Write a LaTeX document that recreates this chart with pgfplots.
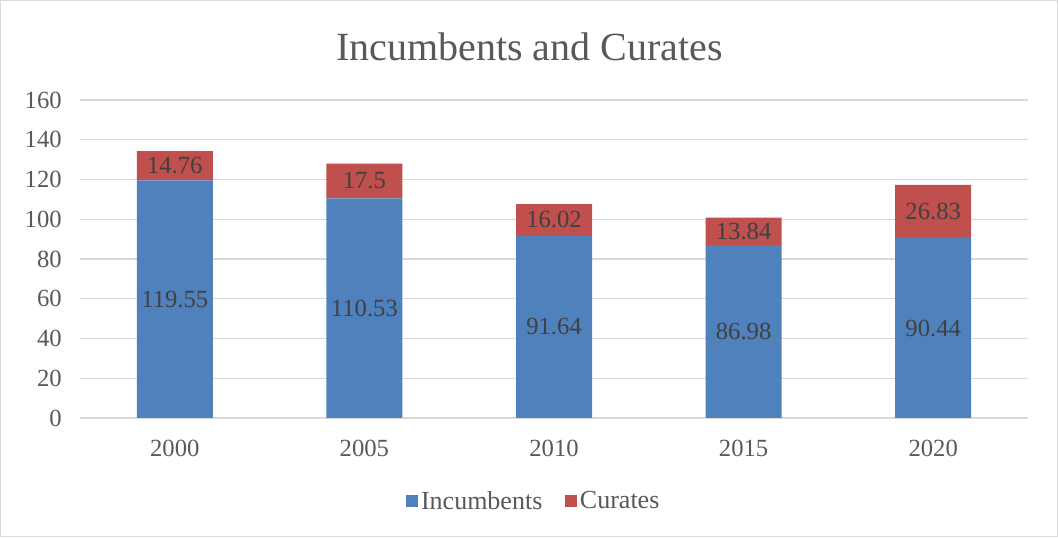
\documentclass[border=0pt]{standalone}
\usepackage{pgfplots}
\usepackage{pgfplotstable}
\pgfplotsset{compat=1.18}
\usepackage{fontspec}
\setmainfont{Liberation Serif}
\definecolor{incblue}{HTML}{4F81BD}
\definecolor{curred}{HTML}{C0504D}
\definecolor{gridgray}{HTML}{D9D9D9}
\definecolor{txtgray}{HTML}{595959}
\definecolor{lblgray}{HTML}{404040}
\pgfplotstableread{
x inc cur
0 119.55 14.76
1 110.53 17.5
2 91.64 16.02
3 86.98 13.84
4 90.44 26.83
}\datatable
\begin{document}
\begin{tikzpicture}[x=1pt,y=1pt]
\begin{axis}[
  at={(0,0)}, anchor=south west, clip=false,
  scale only axis, width=711pt, height=238.5pt,
  ybar stacked, bar width=57pt,
  xmin=-0.5, xmax=4.5, ymin=0, ymax=160,
  xtick={0,1,2,3,4}, xticklabels={2000,2005,2010,2015,2020},
  ytick={0,20,...,160},
  ymajorgrids, grid style={gridgray, line width=0.9pt},
  axis line style={draw=none},
  major tick length=0pt,
  tick label style={font=\fontsize{18.5}{22}\selectfont, text=txtgray},
  /pgf/number format/assume math mode=true,
  yticklabel style={anchor=east, inner sep=0pt, xshift=-13.5pt},
  xticklabel style={anchor=center, inner sep=0pt, yshift=-22.5pt},
  point meta=explicit symbolic,
  nodes near coords,
  every node near coord/.append style={font=\fontsize{18.5}{22}\selectfont, text=lblgray, anchor=center},
  legend style={draw=none, at={(0.479,-0.261)}, anchor=center, legend columns=2,
    font=\fontsize{19.5}{23}\selectfont, text=txtgray,
    /tikz/every even column/.append style={column sep=15pt}},
  legend image code/.code={\fill[#1] (-2pt,-4.6pt) rectangle (7.2pt,4.6pt);},
]
\addplot[fill=incblue, draw=none] table[x=x, y=inc, meta=inc] {\datatable};
\addlegendentry{Incumbents}
\addplot[fill=curred, draw=none] table[x=x, y=cur, meta=cur] {\datatable};
\addlegendentry{Curates}
\end{axis}
\node[font=\fontsize{30}{36}\selectfont, text=txtgray] at (337.1pt,278.25pt) {Incumbents and Curates};
\draw[gridgray, line width=0.75pt] (-59.6pt,-88.9pt) rectangle (733.1pt,313.1pt);
\useasboundingbox (-60pt,-89.25pt) rectangle (733.5pt,313.5pt);
\end{tikzpicture}
\end{document}
